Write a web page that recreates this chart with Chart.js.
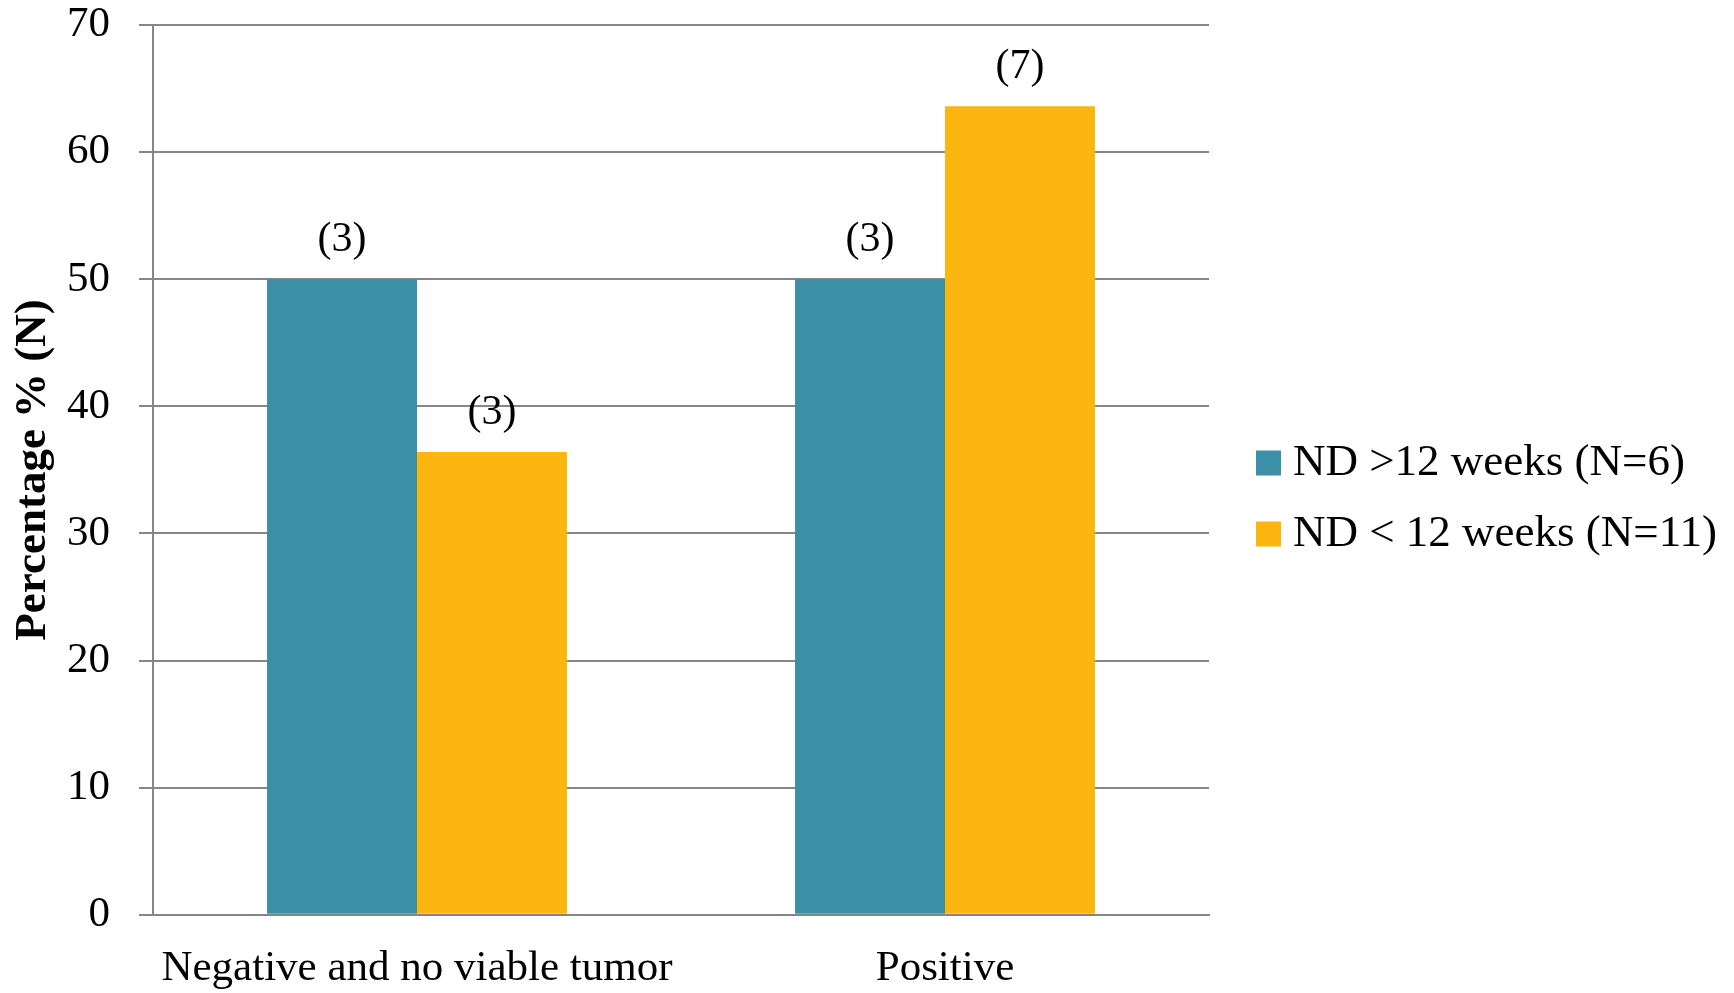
<!DOCTYPE html>
<html>
<head>
<meta charset="utf-8">
<script src="https://cdn.jsdelivr.net/npm/chart.js@4/dist/chart.umd.min.js"></script>
<style>
    body { margin: 0; background: #fff; }
    #wrap { width: 1734px; height: 993px; }
</style>
</head>
<body>
<div id="wrap"><canvas id="chart" width="1734" height="993"></canvas></div>
<script>
//-----------------------------------------------------------------------------
// chart data
//-----------------------------------------------------------------------------
const categories   = ["Negative and no viable tumor", "Positive"];
const seriesNames  = ["ND >12 weeks (N=6)", "ND < 12 weeks (N=11)"];
const overValues   = [50, 50];        // ND >12 weeks, percent
const underValues  = [36.4, 63.6];    // ND < 12 weeks, percent
const overCounts   = [3, 3];
const underCounts  = [3, 7];
const yTicks       = [0, 10, 20, 30, 40, 50, 60, 70];

const FONT = "'Liberation Serif', 'Times New Roman', serif";
const GRID = "#868686";

//-----------------------------------------------------------------------------
// draws the (N) labels above each bar
//-----------------------------------------------------------------------------
const countLabels = {
    id: "countLabels",
    afterDatasetsDraw(chart){
        const ctx = chart.ctx;
        ctx.save();
        ctx.font = `42px ${FONT}`;
        ctx.fillStyle = "#000";
        ctx.textAlign = "center";
        ctx.textBaseline = "middle";
        chart.data.datasets.forEach((ds, i)=>{
            chart.getDatasetMeta(i).data.forEach((bar, j)=>{
                ctx.fillText(`(${ds.counts[j]})`, bar.x, bar.y - 39);
            });
        });
        ctx.restore();
    }
};

//-----------------------------------------------------------------------------
// legend drawn beside the plot (built-in one gets squeezed to a quarter width)
//-----------------------------------------------------------------------------
const sideLegend = {
    id: "sideLegend",
    afterDraw(chart){
        const ctx = chart.ctx;
        const left = chart.chartArea.right + 47;
        const midY = chart.height / 2 + 2;
        const rowGap = 71;
        const n = chart.data.datasets.length;
        ctx.save();
        ctx.font = `45px ${FONT}`;
        ctx.textBaseline = "middle";
        ctx.textAlign = "left";
        chart.data.datasets.forEach((ds, i)=>{
            const y = midY + (i - (n - 1) / 2) * rowGap;
            ctx.fillStyle = ds.backgroundColor;
            ctx.fillRect(left, y - 12.5, 25, 25);
            ctx.fillStyle = "#000";
            ctx.fillText(ds.label, left + 37, y);
        });
        ctx.restore();
    }
};

const ctx = document.getElementById("chart").getContext("2d");
new Chart(ctx, {
    type: "bar",
    data: {
        labels: categories,
        datasets: [
            {
                label: seriesNames[0],
                data: overValues,
                counts: overCounts,
                backgroundColor: "#3b90a7",
                borderWidth: 0
            },
            {
                label: seriesNames[1],
                data: underValues,
                counts: underCounts,
                backgroundColor: "#fdb50f",
                borderWidth: 0
            }
        ]
    },
    options: {
        responsive: false,
        animation: false,
        layout: { padding: { top: 0, right: 525, bottom: 0, left: 0 } },
        datasets: {
            bar: { barPercentage: 1, categoryPercentage: 0.568 }
        },
        plugins: {
            tooltip: { enabled: false },
            legend: { display: false }
        },
        scales: {
            x: {
                grid: {
                    display: true,
                    drawOnChartArea: false,
                    drawTicks: true,
                    tickLength: 30,
                    tickColor: "transparent"
                },
                border: { display: true, color: GRID, width: 2 },
                ticks: {
                    color: "#000",
                    font: { family: FONT, size: 43, lineHeight: 1.12 },
                    padding: 0,
                    maxRotation: 0
                }
            },
            y: {
                min: 0,
                max: 70,
                afterBuildTicks: axis => { axis.ticks = yTicks.map(v => ({ value: v })); },
                // pin the axis width and top room so the plot sits where the original does
                afterFit: axis => {
                    axis.width = 153;
                    axis.paddingTop = 25;
                },
                grid: { color: GRID, lineWidth: 2, tickLength: 14, drawTicks: true },
                border: { display: true, color: GRID, width: 2 },
                ticks: {
                    color: "#000",
                    font: { family: FONT, size: 43 },
                    padding: 29
                },
                title: {
                    display: true,
                    text: "Percentage % (N)",
                    color: "#000",
                    font: { family: FONT, size: 45, weight: "bold" },
                    padding: 6
                }
            }
        }
    },
    plugins: [countLabels, sideLegend]
});
</script>
</body>
</html>
